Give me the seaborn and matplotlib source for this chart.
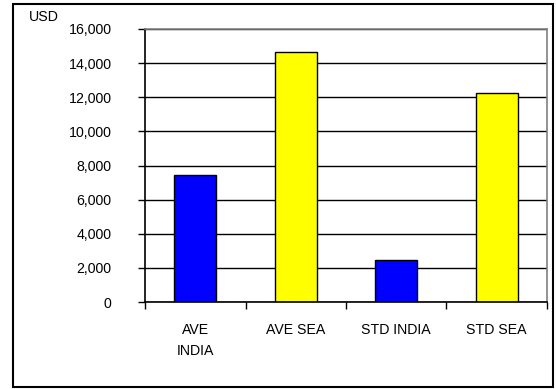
import matplotlib
matplotlib.use("Agg")
import matplotlib.pyplot as plt
import matplotlib.patches as mpatches
from matplotlib.ticker import FuncFormatter, FixedLocator
import seaborn as sns
import pandas as pd

categories = ["AVE\nINDIA", "AVE SEA", "STD INDIA", "STD SEA"]
values = [7450, 14650, 2450, 12250]
bar_colors = ["#0000FF", "#FFFF00", "#0000FF", "#FFFF00"]
y_ticks = [0, 2000, 4000, 6000, 8000, 10000, 12000, 14000, 16000]

sns.set_theme(style="white")
plt.rcParams["font.family"] = ["Liberation Sans", "DejaVu Sans"]

df = pd.DataFrame({"category": categories, "value": values})

fig = plt.figure(figsize=(5.56, 3.89), dpi=100)
fig.patch.set_facecolor("white")
ax = fig.add_axes([145 / 556, 1 - 302 / 389, 402 / 556, 273 / 389])

sns.barplot(data=df, x="category", y="value", hue="category",
            palette=bar_colors, width=0.42, edgecolor="black",
            linewidth=1.0, saturation=1, legend=False, ax=ax, zorder=3)

ax.set_xlim(-0.5, 3.5)
ax.set_ylim(0, 16000)
ax.set_xlabel("")
ax.set_ylabel("")

ax.yaxis.set_major_locator(FixedLocator(y_ticks))
ax.yaxis.set_major_formatter(FuncFormatter(lambda v, p: f"{int(v):,}"))
ax.tick_params(axis="y", which="major", direction="out", length=5, width=1,
               color="black", pad=19, labelsize=10.2, labelcolor="black", left=True)
ax.grid(axis="y", color="black", linewidth=1.0)
ax.set_axisbelow(True)

# category labels centred under bars, boundary ticks between categories
ax.tick_params(axis="x", which="major", length=0, pad=15, labelsize=10.2,
               labelcolor="black")
for lbl in ax.get_xticklabels():
    lbl.set_linespacing(1.65)
    lbl.set_verticalalignment("top")
ax.xaxis.set_minor_locator(FixedLocator([-0.5, 0.5, 1.5, 2.5, 3.5]))
ax.tick_params(axis="x", which="minor", direction="out", length=5, width=1,
               color="black", bottom=True)

for side in ["left", "bottom"]:
    ax.spines[side].set_color("black")
    ax.spines[side].set_linewidth(1.2)
for side in ["top", "right"]:
    ax.spines[side].set_color("#808080")
    ax.spines[side].set_linewidth(1.2)
for sp in ax.spines.values():
    sp.set_zorder(4)

fig.text(44 / 556, 1 - 17 / 389, "USD", ha="center", va="center",
         fontsize=10.2, color="black")

# outer chart frame
fig.patches.append(mpatches.Rectangle((12.5 / 556, 1 - 387 / 389),
                                      540.5 / 556, 383 / 389,
                                      transform=fig.transFigure, fill=False,
                                      edgecolor="black", linewidth=1.5))

fig.savefig("out.png", dpi=100)
